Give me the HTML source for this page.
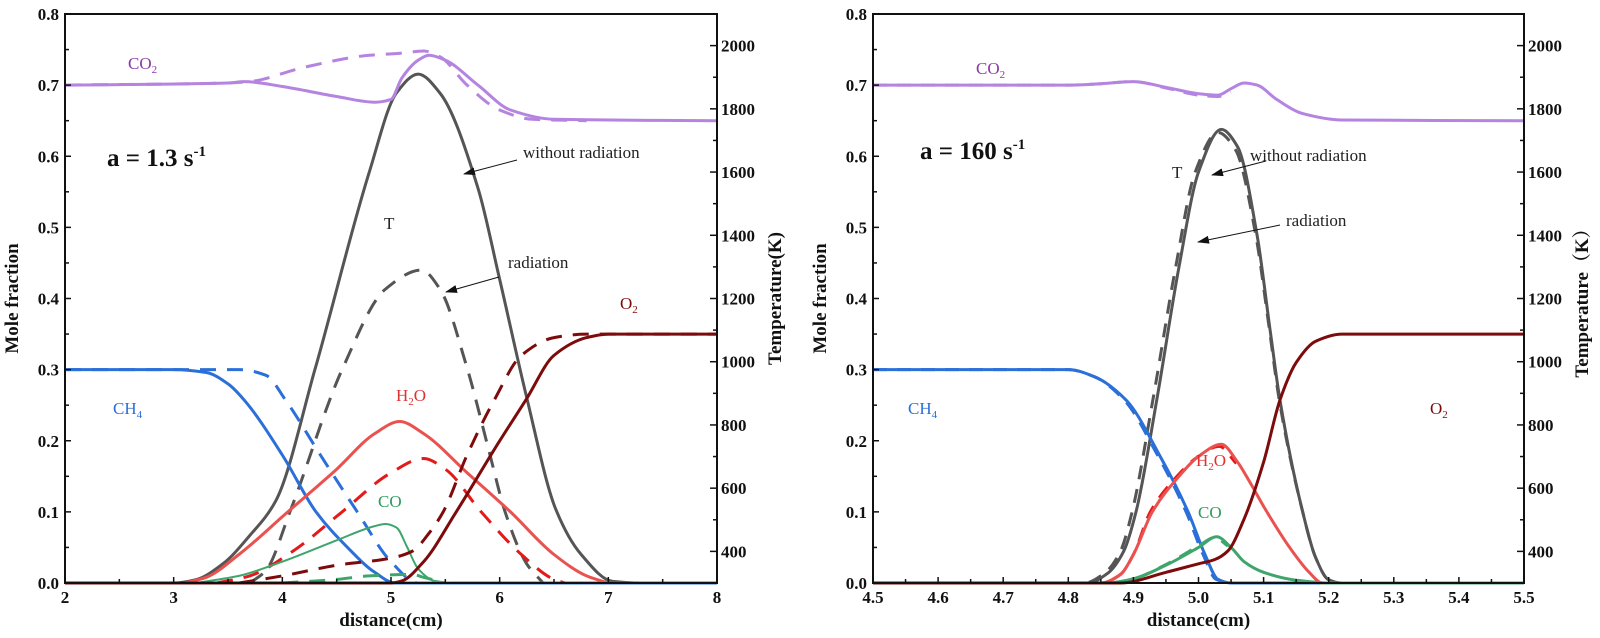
<!DOCTYPE html>
<html><head><meta charset="utf-8"><style>
html,body{margin:0;padding:0;background:#fff;}
svg{display:block;}
text{font-family:"Liberation Serif","Noto Serif CJK SC",serif;}
.tk{font-weight:bold;font-size:17px;fill:#111;}
.ttl{font-weight:bold;font-size:19px;fill:#111;}
.lbl{font-size:17px;}
</style></head><body>
<svg id="chart" width="1600" height="638" viewBox="0 0 1600 638" xmlns="http://www.w3.org/2000/svg">
<g id="left-panel"></g>
<g id="right-panel"></g>
</svg>
<script>
// ===== Left panel data (a = 1.3 s^-1) =====
const L_T_x   = [2,3.0,3.2,3.45,3.7,3.94,4.3,4.8,5.05,5.25,5.45,5.8,6.0,6.24,6.52,6.75,7.04,7.3,8];
const L_T_y   = [300,300,310,360,450,560,975,1600,1850,1910,1850,1550,1260,900,530,390,305,300,300];
const L_Tr_x  = [3.7,3.85,4.07,4.55,4.95,5.28,5.45,5.7,5.9,6.05,6.25,6.4];
const L_Tr_y  = [300,340,525,975,1230,1290,1230,980,720,525,360,300];
const L_CO2_x = [2,3.5,3.65,4.0,4.5,4.85,5.0,5.1,5.25,5.35,5.5,5.8,6.1,6.5,8];
const L_CO2_y = [0.70,0.703,0.705,0.698,0.684,0.676,0.68,0.71,0.735,0.742,0.735,0.70,0.665,0.652,0.65];
const L_CO2r_x= [2,3.5,3.7,4.2,4.8,5.1,5.3,5.45,5.7,6.0,6.3,6.8];
const L_CO2r_y= [0.70,0.703,0.705,0.725,0.742,0.745,0.748,0.74,0.70,0.665,0.652,0.65];
const L_CH4_x = [2,3.0,3.3,3.5,3.65,4.0,4.31,4.6,4.85,5.04,8];
const L_CH4_y = [0.3,0.3,0.296,0.28,0.257,0.18,0.1,0.05,0.015,0,0];
const L_CH4r_x= [2,3.6,3.85,4.03,4.35,4.69,5.0,5.25,8];
const L_CH4r_y= [0.3,0.3,0.292,0.257,0.18,0.1,0.03,0,0];
const L_H2O_x = [3.1,3.3,3.6,4.05,4.5,4.85,5.08,5.3,5.7,6.1,6.5,6.8,7.0];
const L_H2O_y = [0,0.008,0.04,0.1,0.16,0.21,0.227,0.21,0.155,0.1,0.04,0.01,0];
const L_H2Or_x= [3.4,3.7,4.1,4.55,5.0,5.3,5.5,5.83,6.2,6.5,6.6];
const L_H2Or_y= [0,0.01,0.045,0.1,0.155,0.175,0.16,0.1,0.04,0.005,0];
const L_CO_x  = [3.2,3.6,4.0,4.5,4.85,4.95,5.05,5.15,5.25,5.4,5.6,7];
const L_CO_y  = [0,0.01,0.03,0.06,0.08,0.083,0.078,0.05,0.02,0.003,0,0];
const L_COr_x = [4.0,4.5,4.8,5.2,5.3,5.5];
const L_COr_y = [0,0.005,0.01,0.012,0.008,0];
const L_O2_x  = [2,5.0,5.1,5.3,5.6,6.0,6.24,6.5,6.8,7.0,8];
const L_O2_y  = [0,0,0.003,0.03,0.1,0.2,0.257,0.32,0.345,0.35,0.35];
const L_O2r_x = [3.6,4.0,4.5,5.0,5.2,5.35,5.48,5.7,5.95,6.2,6.5,6.8,8];
const L_O2r_y = [0,0.01,0.025,0.035,0.045,0.07,0.1,0.18,0.257,0.32,0.345,0.35,0.35];
const L_xticks = [2,3,4,5,6,7,8];

// ===== Right panel data (a = 160 s^-1) =====
const R_T_x   = [4.5,4.83,4.86,4.885,4.904,4.936,4.97,5.0,5.035,5.06,5.09,5.11,5.125,5.16,5.18,5.2,5.22,5.5];
const R_T_y   = [300,300,330,400,525,880,1300,1600,1735,1680,1400,1100,880,525,380,310,300,300];
const R_Tr_x  = [4.5,4.825,4.855,4.88,4.898,4.93,4.965,4.995,5.03,5.057,5.088,5.109,5.124,5.16,5.18,5.2,5.22,5.5];
const R_Tr_y  = [300,300,330,400,525,880,1300,1600,1725,1670,1400,1100,880,525,380,310,300,300];
const R_CO2_x = [4.5,4.8,4.85,4.9,4.95,5.0,5.03,5.05,5.07,5.09,5.12,5.16,5.22,5.5];
const R_CO2_y = [0.7,0.7,0.702,0.705,0.697,0.688,0.686,0.695,0.703,0.70,0.68,0.66,0.651,0.65];
const R_CO2r_x= [4.5,4.8,4.85,4.9,4.95,5.0,5.03,5.05];
const R_CO2r_y= [0.7,0.7,0.702,0.705,0.696,0.686,0.684,0.69];
const R_CH4_x = [4.5,4.8,4.84,4.889,4.94,4.984,5.01,5.03,5.05,5.5];
const R_CH4_y = [0.3,0.3,0.29,0.257,0.18,0.1,0.04,0.005,0,0];
const R_CH4r_x= [4.5,4.8,4.84,4.886,4.937,4.981,5.007,5.027,5.05];
const R_CH4r_y= [0.3,0.3,0.29,0.257,0.18,0.1,0.04,0.005,0];
const R_H2O_x = [4.5,4.85,4.88,4.9,4.929,4.97,5.0,5.035,5.06,5.08,5.105,5.14,5.17,5.19,5.5];
const R_H2O_y = [0,0,0.012,0.04,0.1,0.15,0.178,0.195,0.17,0.14,0.1,0.05,0.015,0,0];
const R_H2Or_x= [4.5,4.85,4.88,4.9,4.926,4.967,4.997,5.032,5.058];
const R_H2Or_y= [0,0,0.012,0.04,0.1,0.15,0.176,0.192,0.168];
const R_CO_x  = [4.5,4.86,4.9,4.95,5.0,5.028,5.05,5.07,5.1,5.15,5.2,5.5];
const R_CO_y  = [0,0,0.006,0.025,0.05,0.065,0.05,0.03,0.015,0.004,0,0];
const R_COr_x = [4.5,4.86,4.9,4.95,5.0,5.025,5.045];
const R_COr_y = [0,0,0.006,0.026,0.052,0.064,0.052];
const R_O2_x  = [4.5,4.88,4.95,5.0,5.025,5.045,5.07,5.1,5.125,5.15,5.18,5.22,5.5];
const R_O2_y  = [0,0,0.015,0.027,0.033,0.045,0.09,0.17,0.257,0.31,0.34,0.35,0.35];
const R_xticks = [4.5,4.6,4.7,4.8,4.9,5.0,5.1,5.2,5.3,5.4,5.5];

const yTicks = [0.0,0.1,0.2,0.3,0.4,0.5,0.6,0.7,0.8];
const tTicks = [400,600,800,1000,1200,1400,1600,1800,2000];

const NS='http://www.w3.org/2000/svg';
const TOP=14, BOT=583;
function mk(parent, tag, attrs){ const e=document.createElementNS(NS,tag); for(const k in attrs) e.setAttribute(k,attrs[k]); parent.appendChild(e); return e; }
function smooth(pts){
  const n=pts.length;
  const d=[], m=new Array(n);
  for(let i=0;i<n-1;i++) d.push((pts[i+1][1]-pts[i][1])/(pts[i+1][0]-pts[i][0]));
  m[0]=d[0]; m[n-1]=d[n-2];
  for(let i=1;i<n-1;i++){
    if(d[i-1]*d[i]<=0) m[i]=0;
    else { const h0=pts[i][0]-pts[i-1][0], h1=pts[i+1][0]-pts[i][0];
      const w1=2*h1+h0, w2=h1+2*h0; m[i]=(w1+w2)/(w1/d[i-1]+w2/d[i]); }
  }
  let s='M'+pts[0][0].toFixed(1)+','+pts[0][1].toFixed(1);
  for(let i=0;i<n-1;i++){
    const h=(pts[i+1][0]-pts[i][0])/3;
    s+=' C'+(pts[i][0]+h).toFixed(1)+','+(pts[i][1]+m[i]*h).toFixed(1)+' '+(pts[i+1][0]-h).toFixed(1)+','+(pts[i+1][1]-m[i+1]*h).toFixed(1)+' '+pts[i+1][0].toFixed(1)+','+pts[i+1][1].toFixed(1);
  }
  return s;
}
function panel(g, X0, X1, xmin, xmax, xticks, minorStep, fmt, series, tTitle){
  const sx=v=>X0+(v-xmin)/(xmax-xmin)*(X1-X0);
  const sy=v=>BOT-(v/0.8)*(BOT-TOP);
  const st=v=>BOT-((v-300)/1800)*(BOT-TOP);
  series.forEach(s=>{
    const pts=s.x.map((xv,i)=>[sx(xv), s.temp?st(s.y[i]):sy(s.y[i])]);
    const p=mk(g,'path',{d:smooth(pts),fill:'none',stroke:s.c,'stroke-width':s.w||3,'stroke-linejoin':'round'});
    if(s.dash) p.setAttribute('stroke-dasharray',s.dash);
    
    
  });
  const fr=mk(g,'rect',{x:X0,y:TOP,width:X1-X0,height:BOT-TOP,fill:'none',stroke:'#111','stroke-width':2});
  
  
  for(let v=0; v<=0.8001; v+=0.05){
    const y=sy(v), major=Math.abs(v*10-Math.round(v*10))<1e-6;
    mk(g,'line',{x1:X0,x2:X0+(major?6:4),y1:y,y2:y,stroke:'#111','stroke-width':1.5});
  }
  yTicks.forEach(v=>{
    const t=mk(g,'text',{x:X0-6,y:sy(v)+6,'text-anchor':'end',class:'tk'}); t.textContent=v.toFixed(1);
    
    
  });
  for(let v=400; v<=2100; v+=100){
    const y=st(v), major=v%200===0;
    mk(g,'line',{x1:X1,x2:X1-(major?7:4),y1:y,y2:y,stroke:'#111','stroke-width':1.5});
  }
  tTicks.forEach(v=>{
    const t=mk(g,'text',{x:X1+4,y:st(v)+6,'text-anchor':'start',class:'tk'}); t.textContent=v;
    
    
  });
  for(let v=xmin; v<=xmax+1e-9; v+=minorStep){
    const x=sx(v); const major=xticks.some(m=>Math.abs(m-v)<1e-6);
    mk(g,'line',{x1:x,x2:x,y1:BOT,y2:BOT-(major?6:4),stroke:'#111','stroke-width':1.5});
  }
  xticks.forEach(v=>{
    const t=mk(g,'text',{x:sx(v),y:BOT+20,'text-anchor':'middle',class:'tk'}); t.textContent=fmt(v);
    
    
  });
  const xt=mk(g,'text',{x:(X0+X1)/2,y:BOT+43,'text-anchor':'middle',class:'ttl'}); xt.textContent='distance(cm)';
  
  
  const yt=mk(g,'text',{x:0,y:0,'text-anchor':'middle',class:'ttl',transform:`translate(${X0-47},${(TOP+BOT)/2}) rotate(-90)`}); yt.textContent='Mole fraction';
  
  
  const tt=mk(g,'text',{x:0,y:0,'text-anchor':'middle',class:'ttl',transform:`translate(${X1+64},${(TOP+BOT)/2}) rotate(-90)`}); tt.textContent=tTitle;
  
  
}
const GR='#555', PU='#b584e0', BL='#2b6fd8', RD='#ea5250', RDD='#e31a1a', GN='#3ea56c', DR='#7d0b0b';
panel(document.getElementById('left-panel'),65,717,2,8,L_xticks,0.5,v=>String(v),[
  {x:L_T_x,y:L_T_y,temp:1,c:GR,name:'temperature-line'},
  {x:L_Tr_x,y:L_Tr_y,temp:1,c:GR,dash:'16,11',name:'temperature-radiation-line'},
  {x:L_CO2_x,y:L_CO2_y,c:PU,name:'co2-line'},
  {x:L_CO2r_x,y:L_CO2r_y,c:PU,dash:'16,11',name:'co2-radiation-line'},
  {x:L_CH4_x,y:L_CH4_y,c:BL,name:'ch4-line'},
  {x:L_CH4r_x,y:L_CH4r_y,c:BL,dash:'16,11',name:'ch4-radiation-line'},
  {x:L_H2O_x,y:L_H2O_y,c:RD,name:'h2o-line'},
  {x:L_H2Or_x,y:L_H2Or_y,c:RDD,dash:'16,11',name:'h2o-radiation-line'},
  {x:L_CO_x,y:L_CO_y,c:GN,w:2,name:'co-line'},
  {x:L_COr_x,y:L_COr_y,c:GN,dash:'16,11',name:'co-radiation-line'},
  {x:L_O2_x,y:L_O2_y,c:DR,name:'o2-line'},
  {x:L_O2r_x,y:L_O2r_y,c:DR,dash:'16,11',name:'o2-radiation-line'}
],'Temperature(K)');
panel(document.getElementById('right-panel'),873,1524,4.5,5.5,R_xticks,0.05,v=>v.toFixed(1),[
  {x:R_T_x,y:R_T_y,temp:1,c:GR,name:'temperature-line'},
  {x:R_Tr_x,y:R_Tr_y,temp:1,c:GR,dash:'14,10',name:'temperature-radiation-line'},
  {x:R_CO2_x,y:R_CO2_y,c:PU,name:'co2-line'},
  {x:R_CO2r_x,y:R_CO2r_y,c:PU,dash:'14,10',name:'co2-radiation-line'},
  {x:R_CH4r_x,y:R_CH4r_y,c:BL,dash:'14,10',name:'ch4-radiation-line'},
  {x:R_CH4_x,y:R_CH4_y,c:BL,name:'ch4-line'},
  {x:R_H2Or_x,y:R_H2Or_y,c:RDD,dash:'14,10',name:'h2o-radiation-line'},
  {x:R_H2O_x,y:R_H2O_y,c:RD,name:'h2o-line'},
  {x:R_COr_x,y:R_COr_y,c:GN,dash:'14,10',name:'co-radiation-line'},
  {x:R_CO_x,y:R_CO_y,c:GN,name:'co-line'},
  {x:R_O2_x,y:R_O2_y,c:DR,name:'o2-line'}
],'Temperature（K）');
</script>
<svg style="position:absolute;left:0;top:0" width="1600" height="638">
<defs><marker id="arr2" markerWidth="12" markerHeight="8" refX="11" refY="4" orient="auto" markerUnits="userSpaceOnUse"><path d="M0,0 L12,4 L0,8 z" fill="#111"/></marker></defs>
<g class="lbl">
<text x="128" y="69" fill="#8a3aa8" font-size="17">CO<tspan font-size="11" dy="4">2</tspan></text>
<text x="107" y="166" font-weight="bold" font-size="25" fill="#111">a = 1.3 s<tspan font-size="15" dy="-10">-1</tspan></text>
<text x="384" y="229" font-size="17" fill="#222">T</text>
<text x="523" y="158" font-size="17" fill="#222">without radiation</text>
<line x1="517" y1="160" x2="464" y2="174" stroke="#111" stroke-width="1" marker-end="url(#arr2)"/>
<text x="508" y="268" font-size="17" fill="#222">radiation</text>
<line x1="499" y1="277" x2="446" y2="292" stroke="#111" stroke-width="1" marker-end="url(#arr2)"/>
<text x="620" y="309" fill="#7d0b0b" font-size="17">O<tspan font-size="11" dy="4">2</tspan></text>
<text x="396" y="401" fill="#e03030" font-size="17">H<tspan font-size="11" dy="4">2</tspan><tspan dy="-4">O</tspan></text>
<text x="113" y="414" fill="#2b6fd8" font-size="17">CH<tspan font-size="11" dy="4">4</tspan></text>
<text x="378" y="507" fill="#2e9a5a" font-size="17">CO</text>

<text x="976" y="74" fill="#8a3aa8" font-size="17">CO<tspan font-size="11" dy="4">2</tspan></text>
<text x="920" y="159" font-weight="bold" font-size="25" fill="#111">a = 160 s<tspan font-size="15" dy="-10">-1</tspan></text>
<text x="1172" y="178" font-size="17" fill="#222">T</text>
<text x="1250" y="161" font-size="17" fill="#222">without radiation</text>
<line x1="1266" y1="161" x2="1212" y2="175" stroke="#111" stroke-width="1" marker-end="url(#arr2)"/>
<text x="1286" y="226" font-size="17" fill="#222">radiation</text>
<line x1="1280" y1="225" x2="1198" y2="242" stroke="#111" stroke-width="1" marker-end="url(#arr2)"/>
<text x="1430" y="414" fill="#7d0b0b" font-size="17">O<tspan font-size="11" dy="4">2</tspan></text>
<text x="1196" y="466" fill="#e03030" font-size="17">H<tspan font-size="11" dy="4">2</tspan><tspan dy="-4">O</tspan></text>
<text x="908" y="414" fill="#2b6fd8" font-size="17">CH<tspan font-size="11" dy="4">4</tspan></text>
<text x="1198" y="518" fill="#2e9a5a" font-size="17">CO</text>
</g>
</svg>
</body></html>
